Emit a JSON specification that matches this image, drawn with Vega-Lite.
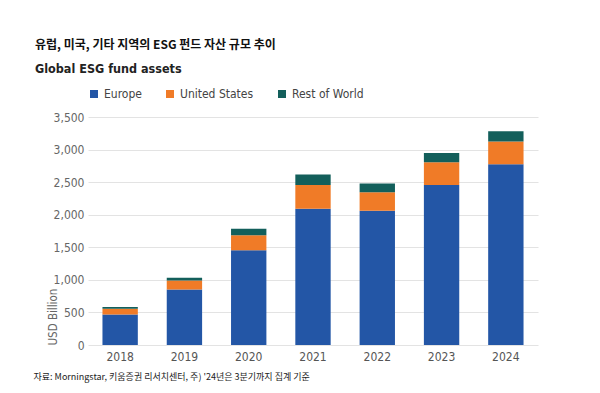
{
  "$schema": "https://vega.github.io/schema/vega-lite/v6.json",
  "autosize": "none",
  "width": 450,
  "height": 228,
  "padding": {"left": 88, "top": 117, "right": 62, "bottom": 48},
  "background": "white",
  "title": {
    "text": "유럽, 미국, 기타 지역의 ESG 펀드 자산 규모 추이",
    "subtitle": "Global ESG fund assets",
    "anchor": "start",
    "frame": "group",
    "dx": -53,
    "offset": 12,
    "font": "Noto Sans CJK KR",
    "fontSize": 12,
    "fontWeight": "bold",
    "color": "#111111",
    "subtitleFont": "DejaVu Sans Condensed, Roboto, sans-serif",
    "subtitleFontSize": 12.5,
    "subtitleFontWeight": "bold",
    "subtitleColor": "#222222",
    "subtitlePadding": 11
  },
  "data": {
    "values": [
      {"year": "2018", "region": "Europe", "value": 470},
      {"year": "2018", "region": "United States", "value": 87},
      {"year": "2018", "region": "Rest of World", "value": 25},
      {"year": "2019", "region": "Europe", "value": 853},
      {"year": "2019", "region": "United States", "value": 138},
      {"year": "2019", "region": "Rest of World", "value": 41},
      {"year": "2020", "region": "Europe", "value": 1456},
      {"year": "2020", "region": "United States", "value": 230},
      {"year": "2020", "region": "Rest of World", "value": 97},
      {"year": "2021", "region": "Europe", "value": 2090},
      {"year": "2021", "region": "United States", "value": 368},
      {"year": "2021", "region": "Rest of World", "value": 158},
      {"year": "2022", "region": "Europe", "value": 2059},
      {"year": "2022", "region": "United States", "value": 286},
      {"year": "2022", "region": "Rest of World", "value": 133},
      {"year": "2023", "region": "Europe", "value": 2458},
      {"year": "2023", "region": "United States", "value": 347},
      {"year": "2023", "region": "Rest of World", "value": 143},
      {"year": "2024", "region": "Europe", "value": 2774},
      {"year": "2024", "region": "United States", "value": 348},
      {"year": "2024", "region": "Rest of World", "value": 158}
    ]
  },
  "transform": [
    {"calculate": "indexof(['Europe','United States','Rest of World'], datum.region)", "as": "stackOrder"}
  ],
  "mark": {"type": "bar"},
  "encoding": {
    "x": {
      "field": "year",
      "type": "ordinal",
      "scale": {"paddingInner": 0.45, "paddingOuter": 0.225},
      "axis": {
        "labelAngle": 0,
        "domain": false,
        "ticks": false,
        "labelPadding": 6,
        "labelFont": "DejaVu Sans Condensed, Roboto, sans-serif",
        "labelFontSize": 12,
        "labelColor": "#555555",
        "title": "자료: Morningstar, 키움증권 리서치센터, 주) '24년은 3분기까지 집계 기준",
        "titleFont": "Noto Sans CJK KR",
        "titleFontSize": 9,
        "titleFontWeight": "normal",
        "titleColor": "#222222",
        "titleAnchor": "start",
        "titleAlign": "left",
        "titleX": -55,
        "titleY": 27
      }
    },
    "y": {
      "field": "value",
      "type": "quantitative",
      "stack": "zero",
      "scale": {"domain": [0, 3500], "nice": false},
      "axis": {
        "values": [0, 500, 1000, 1500, 2000, 2500, 3000, 3500],
        "format": ",.0f",
        "domain": false,
        "ticks": false,
        "labelPadding": 4,
        "labelFont": "DejaVu Sans Condensed, Roboto, sans-serif",
        "labelFontSize": 12,
        "labelColor": "#666666",
        "gridColor": "#e3e3e3",
        "gridWidth": 1,
        "title": "USD Billion",
        "titleFont": "DejaVu Sans Condensed, Roboto, sans-serif",
        "titleFontSize": 11.5,
        "titleFontWeight": "normal",
        "titleColor": "#666666",
        "titleAnchor": "start",
        "titleX": -35,
        "titleBaseline": "middle"
      }
    },
    "color": {
      "field": "region",
      "type": "nominal",
      "scale": {
        "domain": ["Europe", "United States", "Rest of World"],
        "range": ["#2356A6", "#F07B27", "#135F5B"]
      },
      "legend": {
        "orient": "top",
        "direction": "horizontal",
        "title": null,
        "symbolType": "square",
        "symbolSize": 64,
        "symbolStrokeWidth": 0,
        "labelFont": "DejaVu Sans Condensed, Roboto, sans-serif",
        "labelFontSize": 12,
        "labelColor": "#444444",
        "columnPadding": 22,
        "labelOffset": 4,
        "offset": 17,
        "padding": 0
      }
    },
    "order": {"field": "stackOrder", "type": "quantitative", "sort": "ascending"}
  },
  "config": {
    "view": {"stroke": null}
  }
}
